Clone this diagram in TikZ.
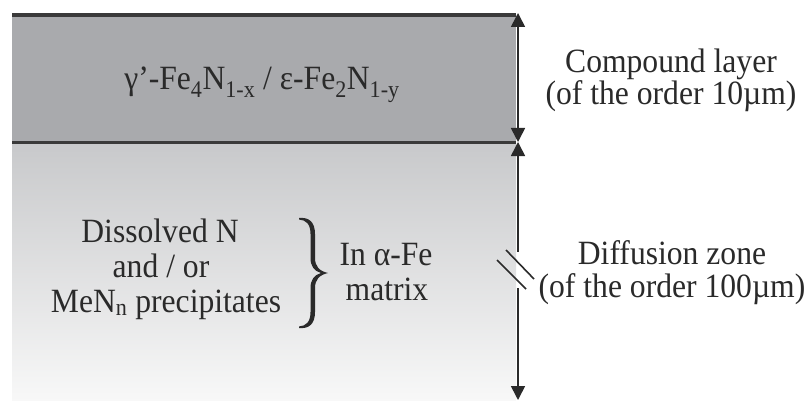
\documentclass[tikz,border=0pt]{standalone}
\usepackage{fontspec}
\setmainfont{Liberation Serif}
\usetikzlibrary{arrows.meta}
\definecolor{compgray}{HTML}{A9AAAD}
\definecolor{difftop}{HTML}{C8C9CB}
\definecolor{diffbot}{HTML}{F8F8F8}
\definecolor{linedark}{HTML}{3A3A3A}
\definecolor{inkc}{HTML}{2A2A2A}
\begin{document}
\begin{tikzpicture}[x=1pt,y=-1pt,
  lbl/.style={font=\fontsize{34}{36}\selectfont, text=inkc, inner sep=0pt, anchor=base, xscale=0.93},
  dimline/.style={draw=inkc, line width=1.6pt},
  breakmark/.style={draw=inkc, line width=1.6pt}]
\useasboundingbox (0,0) rectangle (808,401);
\fill[white] (0,0) rectangle (808,401);
% layers
\fill[compgray] (12,15) rectangle (516,141);
\shade[top color=difftop, bottom color=diffbot] (12,143) rectangle (516,401);
\fill[linedark] (12,13) rectangle (516,17);
\fill[linedark] (12,140.5) rectangle (516,143.5);
% dimension coordinates
\coordinate (ctop) at (518,13);
\coordinate (cbot) at (518,142);
\coordinate (dtop) at (518,142);
\coordinate (dgapa) at (518,252);
\coordinate (dgapb) at (518,288);
\coordinate (dbot) at (518,400);
\draw[dimline, {Triangle[length=14pt,width=14pt]}-{Triangle[length=14pt,width=14pt]}] (ctop) -- (cbot);
\draw[dimline, {Triangle[length=14pt,width=14pt]}-] (dtop) -- (dgapa);
\draw[dimline, -{Triangle[length=14pt,width=14pt]}] (dgapb) -- (dbot);
% break marks
\coordinate (bma) at (506,250);
\coordinate (bmb) at (534,279);
\coordinate (bmc) at (497,260);
\coordinate (bmd) at (526,289);
\draw[breakmark] (bma) -- (bmb);
\draw[breakmark] (bmc) -- (bmd);
% texts
\node[lbl] (phase) at (262,90) {γ’-Fe\textsubscript{4}N\textsubscript{1-x} / ε-Fe\textsubscript{2}N\textsubscript{1-y}};
\node[lbl] (comp1) at (671,73) {Compound layer};
\node[lbl] (comp2) at (671,105) {(of the order 10µm)};
\node[lbl] (diff1) at (672,264) {Diffusion zone};
\node[lbl] (diff2) at (672,297) {(of the order 100µm)};
\node[lbl] (left1) at (160,242) {Dissolved N};
\node[lbl] (left2) at (161,277) {and / or};
\node[lbl] (left3) at (166,312) {MeN\textsubscript{n} precipitates};
\node[lbl] (mat1) at (386,265) {In α-Fe};
\node[lbl] (mat2) at (387,300) {matrix};
% brace (filled glyph-like shape)
\fill[inkc] (299,218) .. controls (309,217) and (315,222) .. (315,234) -- (315,258)
  .. controls (315,266) and (319,271) .. (328,273)
  .. controls (319,275) and (315,280) .. (315,288) -- (315,312)
  .. controls (315,324) and (309,329) .. (299,328)
  -- (299,326.5) .. controls (306,326) and (310.5,322) .. (310.5,312) -- (310.5,288)
  .. controls (310.5,280) and (314,275) .. (321,273)
  .. controls (314,271) and (310.5,266) .. (310.5,258) -- (310.5,234)
  .. controls (310.5,224) and (306,220) .. (299,219.5) -- cycle;
\end{tikzpicture}
\end{document}
